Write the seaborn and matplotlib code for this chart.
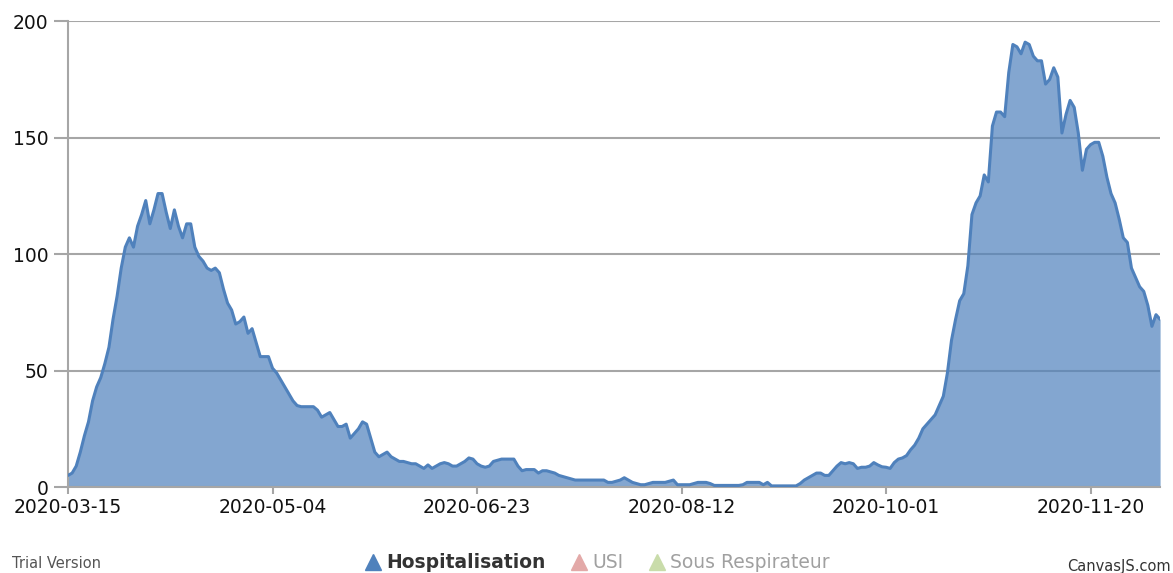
import pandas as pd
import numpy as np
import matplotlib
matplotlib.use("Agg")
import matplotlib.pyplot as plt
import matplotlib.dates as mdates
from matplotlib.lines import Line2D
import seaborn as sns

# daily hospitalisations, 2020-03-15 .. 2020-12-07
start_date = "2020-03-15"
hospitalisation = [
    5, 6, 9, 15, 22, 28, 37, 43, 47, 53,
    60, 72, 82, 94, 103, 107, 103, 112, 117, 123,
    113, 119, 126, 126, 118, 111, 119, 112, 107, 113,
    113, 103, 99, 97, 94, 93, 94, 92, 85, 79,
    76, 70, 71, 73, 66, 68, 62, 56, 56, 56,
    51, 49, 46, 43, 40, 37, 35, 34.5, 34.5, 34.5,
    34.5, 33, 30, 31, 32, 29, 26, 26, 27, 21,
    23, 25, 28, 27, 21, 15, 13, 14, 15, 13,
    12, 11, 11, 10.5, 10, 10, 9, 8, 9.5, 8,
    9, 10, 10.5, 10, 9, 9, 10, 11, 12.5, 12,
    10, 9, 8.5, 9, 11, 11.5, 12, 12, 12, 12,
    9, 7, 7.5, 7.5, 7.5, 6, 7, 7, 6.5, 6,
    5, 4.5, 4, 3.5, 3, 3, 3, 3, 3, 3,
    3, 3, 2, 2, 2.5, 3, 4, 3, 2, 1.5,
    1, 1, 1.5, 2, 2, 2, 2, 2.5, 3, 1,
    1, 1, 1, 1.5, 2, 2, 2, 1.5, 0.7, 0.7,
    0.7, 0.7, 0.7, 0.7, 0.7, 1, 2, 2, 2, 2,
    1, 2, 0.5, 0.5, 0.5, 0.5, 0.5, 0.5, 0.5, 1.5,
    3, 4, 5, 6, 6, 5, 5, 7, 9, 10.5,
    10, 10.5, 10, 8, 8.5, 8.5, 9, 10.5, 9.5, 8.7,
    8.5, 8, 10.5, 12, 12.5, 13.5, 16, 18, 21, 25,
    27, 29, 31, 35, 39, 49, 63, 72, 80, 83,
    95, 117, 122, 125, 134, 131, 155, 161, 161, 159,
    178, 190, 189, 186, 191, 190, 185, 183, 183, 173,
    175, 180, 176, 152, 160, 166, 163, 152, 136, 145,
    147, 148, 148, 142, 133, 126, 122, 115, 107, 105,
    94, 90, 86, 84, 78, 69, 74, 72,
]
tick_dates = ["2020-03-15", "2020-05-04", "2020-06-23", "2020-08-12", "2020-10-01", "2020-11-20"]
y_ticks = [0, 50, 100, 150, 200]
legend_names = ["Hospitalisation", "USI", "Sous Respirateur"]

df = pd.DataFrame({
    "date": pd.date_range(start_date, periods=len(hospitalisation), freq="D"),
    "hospitalisation": hospitalisation,
})

sns.set_style("white")
plt.rcParams["font.family"] = ["DejaVu Sans"]

fig = plt.figure(figsize=(11.73, 5.73), dpi=100)
ax = fig.add_axes([0.058, 0.150, 0.931, 0.813])

blue = "#4F81BC"
ax.fill_between(df["date"], df["hospitalisation"], color=blue, alpha=0.7, linewidth=0, zorder=2)
sns.lineplot(data=df, x="date", y="hospitalisation", color=blue, linewidth=2.2, ax=ax, zorder=3)

ax.set_xlim(df["date"].iloc[0], df["date"].iloc[-1])
ax.set_ylim(0, 200)
ax.set_yticks(y_ticks)
ax.set_xticks(pd.to_datetime(tick_dates))
ax.xaxis.set_major_formatter(mdates.DateFormatter("%Y-%m-%d"))

ax.grid(axis="y", color="#a6a6a6", linewidth=1.5, zorder=1)
ax.grid(axis="x", visible=False)
ax.set_xlabel("")
ax.set_ylabel("")

for side in ["top", "right"]:
    ax.spines[side].set_visible(False)
for side in ["left", "bottom"]:
    ax.spines[side].set_color("#a6a6a6")
    ax.spines[side].set_linewidth(1.5)

ax.tick_params(axis="y", length=10, width=1.5, color="#a6a6a6", labelsize=13.5, labelcolor="#111111", pad=4, left=True)
ax.tick_params(axis="x", length=5, width=1.5, color="#a6a6a6", labelsize=13.5, labelcolor="#111111", pad=3, bottom=True)

# legend along the bottom (the two hidden series greyed out)
handles = [
    Line2D([], [], marker="^", linestyle="none", color=blue, markersize=11),
    Line2D([], [], marker="^", linestyle="none", color="#e3a9a8", markersize=11),
    Line2D([], [], marker="^", linestyle="none", color="#c9dcaa", markersize=11),
]
leg = fig.legend(handles, legend_names, loc="center", bbox_to_anchor=(0.508, 0.018), ncol=3,
                 frameon=False, fontsize=13.5, handletextpad=0.1, columnspacing=1.2, handlelength=1.2)
leg.get_texts()[0].set_color("#333333")
leg.get_texts()[0].set_fontweight("bold")
for t in leg.get_texts()[1:]:
    t.set_color("#a0a0a0")

fig.text(0.010, 0.017, "Trial Version", fontsize=10.5, color="#555555", ha="left", va="center")
fig.text(0.998, 0.012, "CanvasJS.com", fontsize=10.5, color="#333333", ha="right", va="center")

fig.savefig("out.png", dpi=100)
